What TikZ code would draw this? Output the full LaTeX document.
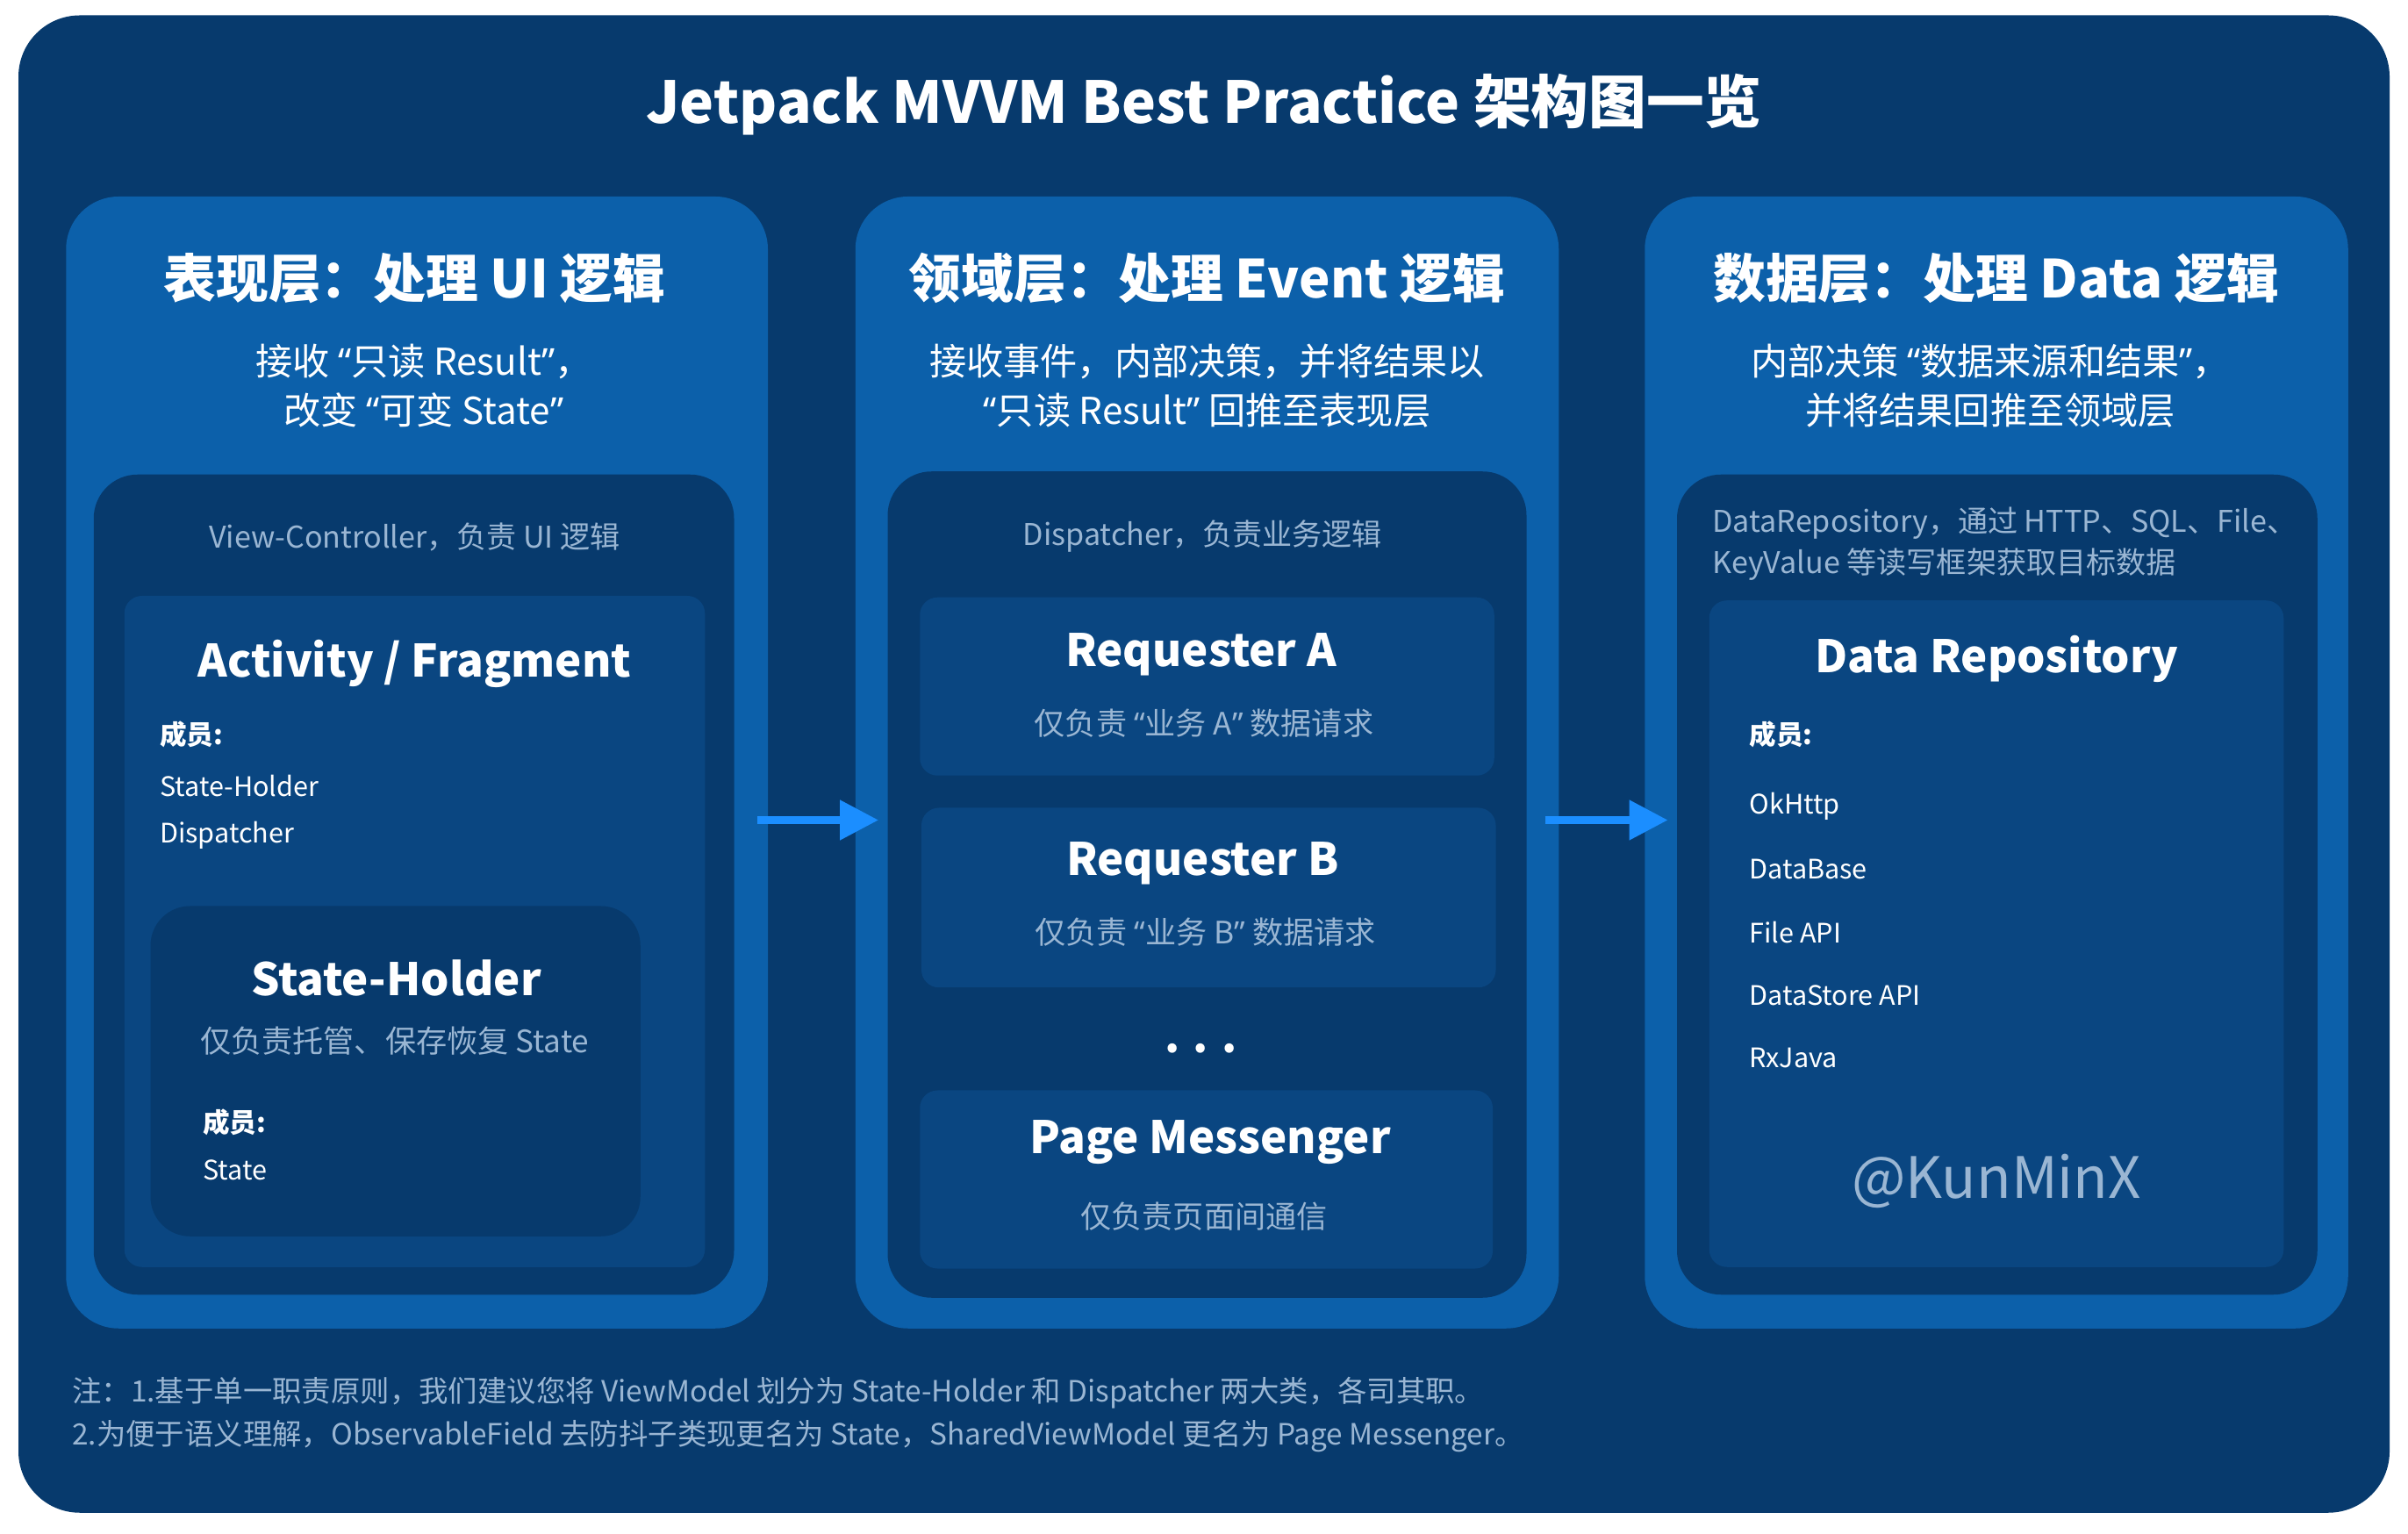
\documentclass[tikz,border=0pt]{standalone}
\usepackage{fontspec}
\setmainfont{Noto Sans CJK SC}
\newfontfamily\quotefont{Noto Sans}
\newcommand\oq{{\quotefont “}}
\newcommand\cq{{\quotefont ”}}
\usetikzlibrary{arrows.meta}
\definecolor{bgnavy}{HTML}{073A6D}
\definecolor{layerblue}{HTML}{0C60AA}
\definecolor{cardblue}{HTML}{0A4681}
\definecolor{mutetext}{HTML}{9AB6D3}
\definecolor{flowblue}{HTML}{1B8EFF}
\tikzset{
	pagetitle/.style={white, font=\fontsize{18.7}{23}\selectfont\bfseries},
	layertitle/.style={white, font=\fontsize{17}{20}\selectfont\bfseries},
	layersub/.style={white, align=center, font=\fontsize{12}{16}\selectfont},
	boxcaption/.style={mutetext, font=\fontsize{9.7}{13.5}\selectfont},
	cardtitle/.style={white, font=\fontsize{14.5}{18}\selectfont\bfseries},
	cardsub/.style={mutetext, font=\fontsize{10}{13}\selectfont},
	member/.style={white, anchor=west, font=\fontsize{8.7}{11}\selectfont},
	note/.style={mutetext, anchor=west, align=left, font=\fontsize{9.5}{14}\selectfont},
	flow/.style={flowblue, line width=2.3pt, -{Triangle[length=0.44cm,width=0.44cm]}},
}
\begin{document}
\begin{tikzpicture}[x=0.0175cm, y=-0.0175cm]
	\useasboundingbox (0,0) rectangle (1568,998.86);
	% background and the three layers
	\fill[bgnavy, rounded corners=0.7cm] (12,10) rectangle (1556,985);
	\fill[layerblue, rounded corners=0.6cm] (43,128) rectangle (500,865);
	\fill[layerblue, rounded corners=0.6cm] (557,128) rectangle (1015,865);
	\fill[layerblue, rounded corners=0.6cm] (1071,128) rectangle (1529,865);
	\fill[bgnavy, rounded corners=0.5cm] (61,309) rectangle (478,843);
	\fill[bgnavy, rounded corners=0.5cm] (578,307) rectangle (994,845);
	\fill[bgnavy, rounded corners=0.5cm] (1092,309) rectangle (1509,843);
	% cards
	\fill[cardblue, rounded corners=0.2cm] (81,388) rectangle (459,825);
	\fill[bgnavy, rounded corners=0.45cm] (98,590) rectangle (417,805);
	\fill[cardblue, rounded corners=0.2cm] (599,389) rectangle (973,505);
	\fill[cardblue, rounded corners=0.2cm] (600,526) rectangle (974,643);
	\fill[cardblue, rounded corners=0.2cm] (599,710) rectangle (972,826);
	\fill[cardblue, rounded corners=0.2cm] (1113,391) rectangle (1487,825);

	\node[pagetitle] (title) at (784,68) {Jetpack MVVM Best Practice 架构图一览};

	% presentation layer
	\node[layertitle] (ui) at (270,181) {表现层：处理 UI 逻辑};
	\node[layersub] (uisub) at (276,251) {接收 \oq 只读 Result\cq，\\改变 \oq 可变 State\cq};
	\node[boxcaption] (vc) at (270,350) {View-Controller，负责 UI 逻辑};
	\node[cardtitle] (act) at (270,432) {Activity / Fragment};
	\node[member] (actm) at (97,478) {\bfseries 成员:};
	\node[member] (actm1) at (97,512) {State-Holder};
	\node[member] (actm2) at (97,544) {Dispatcher};
	\node[cardtitle] (sh) at (258,637) {State-Holder};
	\node[cardsub] (shsub) at (257,678) {仅负责托管、保存恢复 State};
	\node[member] (shm) at (125,731) {\bfseries 成员:};
	\node[member] (shm1) at (125,762) {State};

	% domain layer
	\node[layertitle] (ev) at (786,181) {领域层：处理 Event 逻辑};
	\node[layersub] (evsub) at (786,251) {接收事件，内部决策，并将结果以\\\oq 只读 Result\cq\ 回推至表现层};
	\node[boxcaption] (dp) at (783,349) {Dispatcher，负责业务逻辑};
	\node[cardtitle] (reqa) at (782,426) {Requester A};
	\node[cardsub] (reqasub) at (784,471) {仅负责 \oq 业务 A\cq\ 数据请求};
	\node[cardtitle] (reqb) at (783,562) {Requester B};
	\node[cardsub] (reqbsub) at (785,607) {仅负责 \oq 业务 B\cq\ 数据请求};
	\node[white, font=\fontsize{14}{14}\selectfont\bfseries] (dots) at (782,683) {. . .};
	\node[cardtitle] (pm) at (788,744) {Page Messenger};
	\node[cardsub] (pmsub) at (784,792) {仅负责页面间通信};

	% data layer
	\node[layertitle] (da) at (1300,181) {数据层：处理 Data 逻辑};
	\node[layersub] (dasub) at (1296,251) {内部决策 \oq 数据来源和结果\cq，\\并将结果回推至领域层};
	\node[boxcaption, anchor=west, align=left] (repo) at (1108,354) {DataRepository，通过 HTTP、SQL、File、\\KeyValue 等读写框架获取目标数据};
	\node[cardtitle] (dr) at (1300,429) {Data Repository};
	\node[member] (drm) at (1132,478) {\bfseries 成员:};
	\node[member] (drm1) at (1132,525) {OkHttp};
	\node[member] (drm2) at (1132,566) {DataBase};
	\node[member] (drm3) at (1132,607) {File API};
	\node[member] (drm4) at (1132,648) {DataStore API};
	\node[member] (drm5) at (1132,689) {RxJava};
	\node[mutetext, font=\fontsize{18.5}{22}\selectfont] (sign) at (1300,769) {@KunMinX};

	% arrows between the layers
	\coordinate (ui-out) at (493,534);
	\coordinate (ev-in) at (572,534);
	\coordinate (ev-out) at (1006,534);
	\coordinate (da-in) at (1086,534);
	\draw[flow] (ui-out) -- (ev-in);
	\draw[flow] (ev-out) -- (da-in);

	\node[note] (notes) at (40,921) {注：1.基于单一职责原则，我们建议您将 ViewModel 划分为 State-Holder 和 Dispatcher 两大类，各司其职。\\2.为便于语义理解，ObservableField 去防抖子类现更名为 State，SharedViewModel 更名为 Page Messenger。};
\end{tikzpicture}
\end{document}
